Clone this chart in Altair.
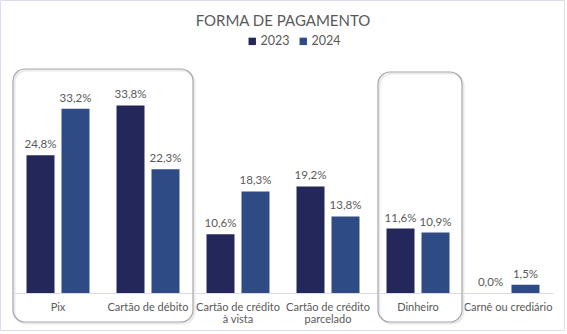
import altair as alt
import pandas as pd

categories = ["Pix", "Cartão de débito", "Cartão de crédito|à vista",
              "Cartão de crédito|parcelado", "Dinheiro", "Carnê ou crediário"]
years = ["2023", "2024"]
v2023 = [24.8, 33.8, 10.6, 19.2, 11.6, 0.0]
v2024 = [33.2, 22.3, 18.3, 13.8, 10.9, 1.5]
colors = ["#24275a", "#2f4b86"]
title_text = "FORMA DE PAGAMENTO"

rows = []
for c, a, b in zip(categories, v2023, v2024):
    rows.append({"cat": c, "year": years[0], "v": a})
    rows.append({"cat": c, "year": years[1], "v": b})
df = pd.DataFrame(rows)

FONT = "Lato"
GRAY = "#595959"

x = alt.X("cat:N", sort=categories,
          scale=alt.Scale(paddingInner=0, paddingOuter=0),
          axis=alt.Axis(title=None, labelAngle=0, ticks=False,
                        domainColor="#d9d9ef", domainWidth=1.2,
                        labelColor=GRAY, labelFontSize=11, labelFont=FONT,
                        labelPadding=8, labelLineHeight=12.5,
                        labelExpr="split(datum.label, '|')"))
xo = alt.XOffset("year:N", scale=alt.Scale(paddingInner=0.2, paddingOuter=0.386))
y = alt.Y("v:Q", scale=alt.Scale(domain=[0, 40], nice=False), axis=None)

base = alt.Chart(df)
bars = base.mark_bar().encode(
    x=x, xOffset=xo, y=y,
    color=alt.Color("year:N", scale=alt.Scale(domain=years, range=colors),
                    legend=alt.Legend(title=None, orient="none", legendX=233, legendY=-36,
                                      direction="horizontal", symbolType="square",
                                      symbolSize=55, symbolStrokeWidth=0,
                                      labelFontSize=12.5, labelColor=GRAY, labelFont=FONT,
                                      labelOffset=2, columnPadding=7))
)
labels = base.mark_text(baseline="alphabetic", dy=-7, fontSize=11.5, font=FONT, color=GRAY).encode(
    x=x, xOffset=xo, y=y,
    text="lbl:N"
).transform_calculate(lbl="replace(format(datum.v, '.1f'), '.', ',') + '%'")

one = pd.DataFrame({"a": [0]})
def box(x1, y1, x2, y2, stroke, sw, r):
    return alt.Chart(one).mark_rect(fill=None, stroke=stroke, strokeWidth=sw, cornerRadius=r).encode(
        x=alt.value(x1), x2=alt.value(x2), y=alt.value(y1), y2=alt.value(y2))

title = alt.Chart(one).mark_text(text=title_text, fontSize=15, font=FONT, color=GRAY,
                                 baseline="alphabetic", align="center").encode(
    x=alt.value(270), y=alt.value(-45))

layers = [
    box(-12.5, -70.5, 551.5, 259.5, "#dcdcf0", 1, 0),
    box(1.5, -0.5, 181.5, 252.5, "#e9e9e9", 2, 12),
    box(366.5, 2.5, 450.5, 252.5, "#e9e9e9", 2, 12),
    box(0, -2, 180, 251, "#a6a6a6", 1.2, 12),
    box(365, 1, 449, 251, "#a6a6a6", 1.2, 12),
    bars, labels, title,
]

chart = alt.layer(*layers).properties(
    width=540, height=222,
    background="white",
    autosize=alt.AutoSizeParams(type="none"),
    padding={"left": 13, "top": 71, "right": 14, "bottom": 41},
).configure_view(stroke=None)

chart.save("out.html", embed_options={"renderer": "svg", "actions": False})
